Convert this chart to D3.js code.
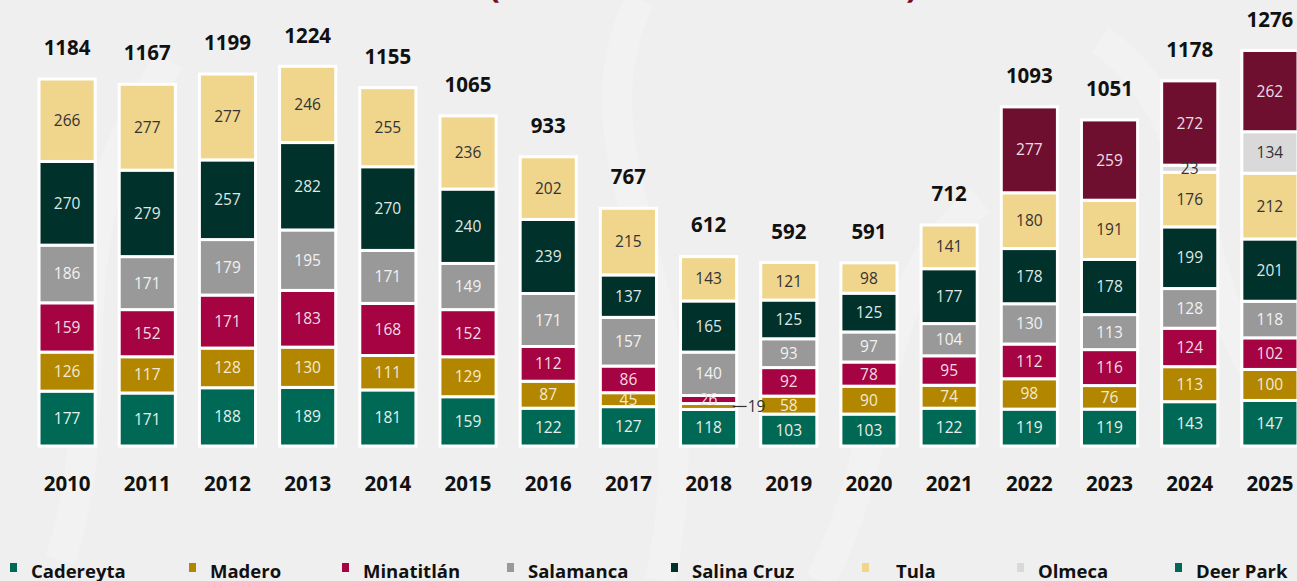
<!DOCTYPE html>
<html>
<head>
<meta charset="utf-8">
<script src="https://cdn.jsdelivr.net/npm/d3@7"></script>
<style>
  html, body { margin: 0; padding: 0; background: #efefef; overflow: hidden; }
  svg { display: block; font-family: "Open Sans", "Noto Sans", sans-serif; }
</style>
</head>
<body>
<svg id="chart"></svg>
<script>
var w = 1297;
var h = 581;

// data (miles de barriles diarios)
var years = ["2010","2011","2012","2013","2014","2015","2016","2017","2018","2019","2020","2021","2022","2023","2024","2025"];
var refineries = ["Cadereyta","Madero","Minatitlán","Salamanca","Salina Cruz","Tula","Olmeca","Deer Park"];
var cadereyta  = [177,171,188,189,181,159,122,127,118,103,103,122,119,119,143,147];
var madero     = [126,117,128,130,111,129,87,45,19,58,90,74,98,76,113,100];
var minatitlan = [159,152,171,183,168,152,112,86,26,92,78,95,112,116,124,102];
var salamanca  = [186,171,179,195,171,149,171,157,140,93,97,104,130,113,128,118];
var salinaCruz = [270,279,257,282,270,240,239,137,165,125,125,177,178,178,199,201];
var tula       = [266,277,277,246,255,236,202,215,143,121,98,141,180,191,176,212];
var olmeca     = [0,0,0,0,0,0,0,0,0,0,0,0,0,0,23,134];
var deerPark   = [0,0,0,0,0,0,0,0,0,0,0,0,277,259,272,262];
var totals     = [1184,1167,1199,1224,1155,1065,933,767,612,592,591,712,1093,1051,1178,1276];

var seriesValues = [cadereyta, madero, minatitlan, salamanca, salinaCruz, tula, olmeca, deerPark];
var fills = ["#006955","#b38600","#a50341","#999999","#00312a","#f0d58d","#d9d9d9","#6f0f30"];
var labelColors = ["#e6efec","#f3ead0","#f3dbe3","#f2f2f2","#dfe8e6","#333333","#333333","#f0dde3"];
var legendMarks = ["#006955","#b38600","#a50341","#999999","#00312a","#f0d58d","#d9d9d9","#006955"];

var rows = years.map(function(y, i) {
  var r = { year: y };
  refineries.forEach(function(name, k) { r[name] = seriesValues[k][i]; });
  return r;
});

var svg = d3.select("#chart").attr("width", w).attr("height", h);

// faint background swirls
var bg = svg.append("g").attr("fill", "none").attr("stroke", "#f4f4f4").attr("stroke-width", 30).attr("opacity", 0.7);
bg.append("path").attr("d", "M60,560 C120,380 40,240 170,60");
bg.append("path").attr("d", "M640,0 C560,160 720,300 660,581");
bg.append("path").attr("d", "M1100,40 C1220,120 1180,300 1290,420");
bg.append("path").attr("d", "M820,581 C900,430 860,300 980,200");

var x = d3.scaleBand().domain(years).range([27, 1310]).paddingInner(0.3).paddingOuter(0.15);
var y = d3.scaleLinear().domain([0, 1276]).range([446, 50.5]);

var stack = d3.stack().keys(refineries);
var layers = stack(rows);

// title, mostly above the frame
svg.append("text")
  .attr("x", 703).attr("y", -3)
  .attr("text-anchor", "middle")
  .attr("fill", "#6f0f30")
  .attr("font-size", 34).attr("font-weight", 700)
  .text("(miles de barriles diarios)");

var layerG = svg.selectAll("g.layer")
  .data(layers)
  .join("g")
  .attr("class", "layer")
  .attr("fill", function(d, i) { return fills[i]; });

layerG.selectAll("rect")
  .data(function(d) { return d.filter(function(s) { return s[1] - s[0] > 0; }); })
  .join("rect")
  .attr("x", function(d) { return x(d.data.year); })
  .attr("y", function(d) { return y(d[1]); })
  .attr("width", x.bandwidth())
  .attr("height", function(d) { return y(d[0]) - y(d[1]); })
  .attr("stroke", "#ffffff")
  .attr("stroke-width", 3);

// segment labels
layers.forEach(function(layer, k) {
  layer.forEach(function(s) {
    var v = s[1] - s[0];
    if (v <= 0) return;
    var cx = x(s.data.year) + x.bandwidth() / 2;
    var cy = (y(s[0]) + y(s[1])) / 2;
    if (v < 20) {
      // too small: label outside with leader line
      svg.append("line")
        .attr("x1", x(s.data.year) + x.bandwidth() - 4).attr("x2", x(s.data.year) + x.bandwidth() + 10)
        .attr("y1", cy).attr("y2", cy)
        .attr("stroke", "#333").attr("stroke-width", 1.2);
      svg.append("text")
        .attr("x", x(s.data.year) + x.bandwidth() + 11).attr("y", cy + 5.5)
        .attr("font-size", 15.5).attr("fill", "#333")
        .text(v);
      return;
    }
    svg.append("text")
      .attr("x", cx).attr("y", cy + 5.5)
      .attr("text-anchor", "middle")
      .attr("font-size", 15.5)
      .attr("fill", (v < 25 && k === 6) ? "#333333" : labelColors[k])
      .text(v);
  });
});

// totals
svg.selectAll("text.total")
  .data(years)
  .join("text")
  .attr("class", "total")
  .attr("x", function(d) { return x(d) + x.bandwidth() / 2; })
  .attr("y", function(d, i) { return y(totals[i]) - 24; })
  .attr("text-anchor", "middle")
  .attr("font-size", 20.5).attr("font-weight", 700).attr("fill", "#111")
  .text(function(d, i) { return totals[i]; });

// year axis
var xAxis = svg.append("g")
  .attr("transform", "translate(0,491)")
  .call(d3.axisBottom(x).tickSize(0).tickPadding(0));
xAxis.select(".domain").remove();
xAxis.selectAll("text")
  .attr("dy", 0)
  .attr("font-family", "'Open Sans', sans-serif")
  .attr("font-size", 20.5).attr("font-weight", 700).attr("fill", "#111");

// legend
var legendX = [10, 189, 342, 507, 671, 862, 1017, 1175];
var legend = svg.selectAll("g.legend")
  .data(refineries)
  .join("g")
  .attr("class", "legend")
  .attr("transform", function(d, i) { return "translate(" + legendX[i] + ",0)"; });
legend.append("rect")
  .attr("x", 0).attr("y", 563).attr("width", 7).attr("height", 9)
  .attr("fill", function(d, i) { return legendMarks[i]; });
legend.append("text")
  .attr("x", function(d, i) { return i === 5 ? 34 : 21; })
  .attr("y", 578)
  .attr("font-size", 18.5).attr("font-weight", 700).attr("fill", "#111")
  .text(function(d) { return d; });
</script>
</body>
</html>
